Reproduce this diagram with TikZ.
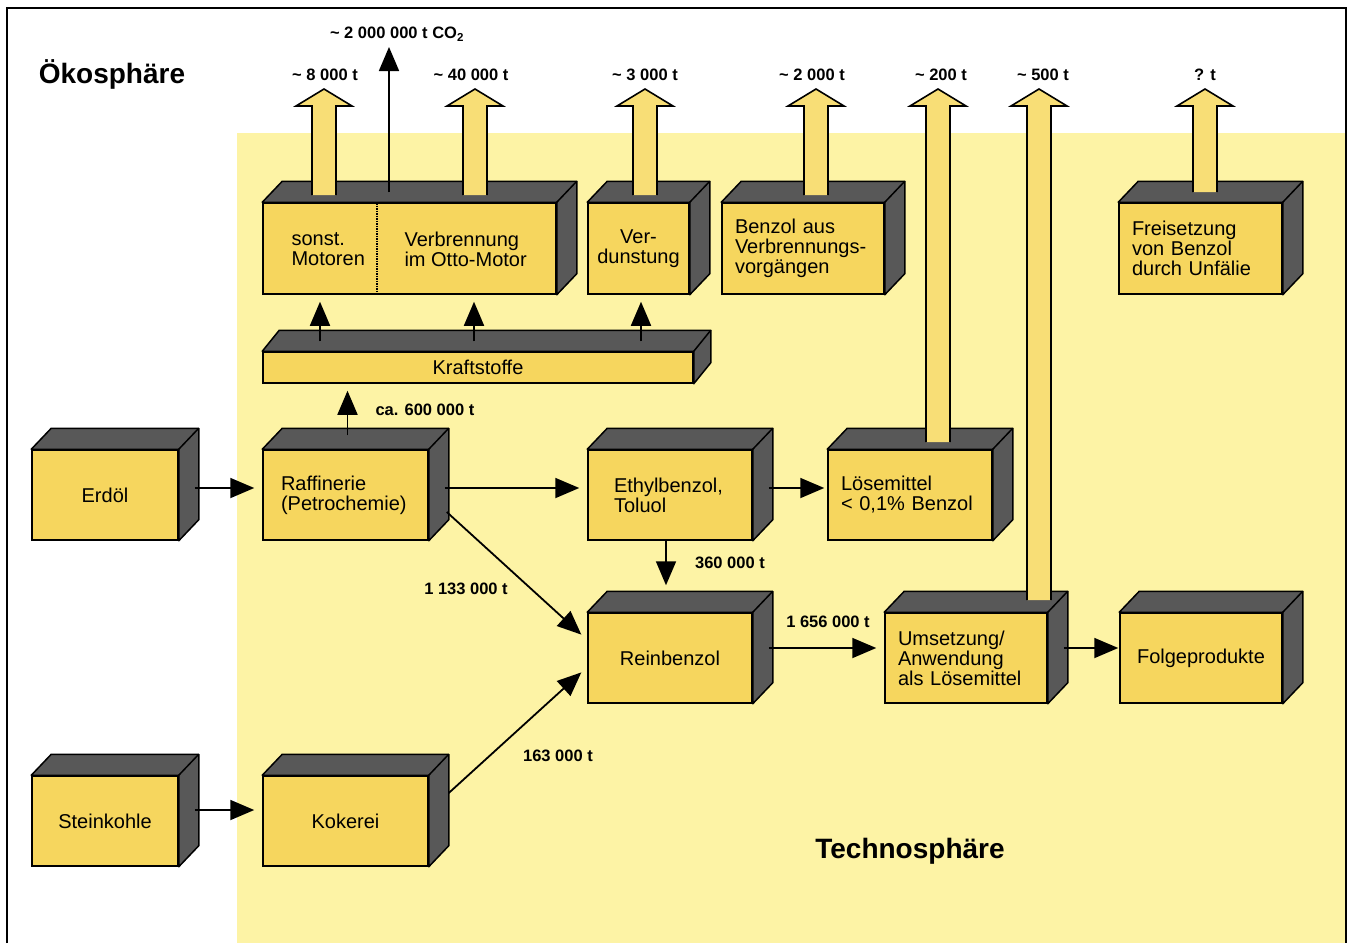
\documentclass[tikz,border=0pt]{standalone}
\usepackage{fontspec}
\setmainfont{Liberation Sans}
\usetikzlibrary{arrows.meta,calc,positioning}
\definecolor{hintergrund}{RGB}{253,243,165}
\definecolor{kastengelb}{RGB}{246,214,94}
\definecolor{kastengrau}{RGB}{88,88,88}
\definecolor{pfeilgelb}{RGB}{248,222,118}
\newcommand{\kastenschrift}{\fontsize{20}{20}\selectfont}
\newcommand{\zahlschrift}{\fontsize{16.5}{18}\selectfont\bfseries}
\newcommand{\titelschrift}{\fontsize{28}{30}\selectfont\bfseries}
\tikzset{
  kasten/.style={draw=black, line width=1.5pt, fill=kastengelb, inner sep=0pt,
    minimum height=90, font=\kastenschrift},
  flanke/.style={draw=black, fill=kastengrau, line width=1.5pt, line join=round},
  pfeil/.style={->, line width=1.8pt, shorten >=8pt},
  zahl/.style={font=\zahlschrift},
  titel/.style={font=\titelschrift},
  teiler/.style={line width=1.5pt, densely dotted},
  rahmen/.style={line width=1.2pt}
}
% Oberseite und Seitenflaeche eines Kastens
\newcommand{\tiefe}[2][20]{%
  \filldraw[flanke] (#2.north west) -- ++(#1pt,21pt) -- ($(#2.north east)+(#1pt,21pt)$)
    -- ($(#2.south east)+(#1pt,21pt)$) -- (#2.south east) -- (#2.north east) -- cycle;
  \draw[flanke] (#2.north east) -- ++(#1pt,21pt);}
% hohler Pfeil nach oben: x, Fuss, Spitze
\newcommand{\hohlpfeil}[3]{%
  \fill[pfeilgelb] (#1-12,#2) -- (#1-12,#3+17) -- (#1-28,#3+17) -- (#1,#3)
    -- (#1+28,#3+17) -- (#1+12,#3+17) -- (#1+12,#2) -- cycle;
  \draw[line width=1.6pt] (#1-12,#2) -- (#1-12,#3+17) -- (#1-28,#3+17) -- (#1,#3)
    -- (#1+28,#3+17) -- (#1+12,#3+17) -- (#1+12,#2);}

\begin{document}
\begin{tikzpicture}[x=1pt,y=-1pt,>={Triangle[length=24pt,width=20pt]}]
\useasboundingbox (0,0) rectangle (1354,943);
\fill[white] (0,0) rectangle (1354,943);
\fill[hintergrund] (237,133) rectangle (1346,943);
\draw[rahmen] (7,943) -- (7,8) -- (1346,8) -- (1346,943);

\node[titel] (oeko) at (112,74) {Ökosphäre};
\node[titel] (techno) at (910,851) {Technosphäre};

% Kaesten
\node[kasten,minimum width=146] (erdoel) at (105,495) {Erdöl};
\node[kasten,minimum width=146] (stein) at (105,821) {Steinkohle};
\node[kasten,minimum width=165,text width=129pt,align=left] (raff) at (345.5,495) {Raffinerie\\(Petrochemie)};
\node[kasten,minimum width=165] (kokerei) at (345.5,821) {Kokerei};
\node[kasten,minimum width=164,text width=112pt,align=left] (ethyl) at (670,495) {Ethylbenzol,\\Toluol};
\node[kasten,minimum width=164,text width=138pt,align=left] (loese) at (910,495) {Lösemittel\\< 0,1\% Benzol};
\node[kasten,minimum width=164] (rein) at (670,658) {Reinbenzol};
\node[kasten,minimum width=162,text width=136pt,align=left] (umsetz) at (966,658) {Umsetzung/\\Anwendung\\als Lösemittel};
\node[kasten,minimum width=162] (folge) at (1201,658) {Folgeprodukte};
\node[kasten,minimum width=293,minimum height=91] (motor) at (409.5,248.5) {};
\node[kasten,minimum width=101,minimum height=91,align=center] (verd) at (638.5,248.5) {Ver-\\dunstung};
\node[kasten,minimum width=162,minimum height=91,text width=136pt,align=left] (benzol) at (803,248.5) {Benzol aus\\Verbrennungs-\\vorgängen};
\node[kasten,minimum width=163,minimum height=91,text width=137pt,align=left] (frei) at (1200.5,248.5) {Freisetzung\\von Benzol\\durch Unfälie};
\node[kasten,minimum width=430,minimum height=31] (kraft) at (478,367.5) {Kraftstoffe};
\foreach \k in {erdoel,stein,raff,kokerei,ethyl,loese,rein,umsetz,folge,motor,verd,benzol,frei}
  {\tiefe{\k}}
\tiefe[17]{kraft}

\node[anchor=west,font=\kastenschrift,align=left] (sonst) at (288,249) {sonst.\\Motoren};
\node[anchor=west,font=\kastenschrift,align=left] (otto) at (401,249) {Verbrennung\\im Otto-Motor};
\coordinate (teil) at (377,203);
\draw[teiler] (teil) -- (teil |- motor.south);

% Stoffstroeme
\draw[pfeil] ([xshift=16pt,yshift=7pt]erdoel.east) -- ([yshift=7pt]raff.west);
\draw[pfeil] ([xshift=16pt,yshift=11pt]stein.east) -- ([yshift=11pt]kokerei.west);
\draw[pfeil] ([xshift=16pt,yshift=7pt]raff.east) -- ([yshift=7pt]ethyl.west);
\draw[pfeil] ([xshift=18pt,yshift=-17pt]raff.east) -- ([yshift=18pt]rein.west);
\draw[pfeil] ([xshift=20pt,yshift=28pt]kokerei.east) -- ([yshift=-9pt]rein.west);
\draw[pfeil,shorten >=3pt] ([xshift=16pt,yshift=7pt]ethyl.east) -- ([yshift=7pt]loese.west);
\draw[pfeil,shorten >=0pt] ([xshift=-4pt]ethyl.south) -- ([xshift=-4pt,yshift=27pt]rein.north);
\draw[pfeil] ([xshift=16pt,yshift=10pt]rein.east) -- ([yshift=10pt]umsetz.west);
\draw[pfeil,shorten >=1pt] ([xshift=16pt,yshift=10pt]umsetz.east) -- ([yshift=10pt]folge.west);
\draw[pfeil,shorten >=7pt] ([xshift=2pt,yshift=14pt]raff.north) -- ([xshift=2pt]raff.north |- kraft.south);
\foreach \z in {320,474,641}
  \draw[pfeil,shorten >=7pt] (\z,0 |- kraft.north) ++(0,-10) -- (\z,0 |- motor.south);
\coordinate (co2spitze) at (389,47);
\draw[->,line width=1.8pt] (co2spitze |- motor.north) ++(0,-10) -- (co2spitze);

% Emissionen
\hohlpfeil{324}{195}{89}
\hohlpfeil{475}{195}{89}
\hohlpfeil{645}{195}{89}
\hohlpfeil{816}{195}{89}
\hohlpfeil{938}{442}{89}
\hohlpfeil{1039}{600}{89}
\hohlpfeil{1205}{192}{89}

\node[zahl] (eco2) at (397,34) {\textasciitilde{} 2 000 000 t CO\textsubscript{2}};
\node[zahl] (e8000) at (325,75) {\textasciitilde{} 8 000 t};
\node[zahl] (e40000) at (471,75) {\textasciitilde{} 40 000 t};
\node[zahl] (e3000) at (645,75) {\textasciitilde{} 3 000 t};
\node[zahl] (e2000) at (812,75) {\textasciitilde{} 2 000 t};
\node[zahl] (e200) at (941,75) {\textasciitilde{} 200 t};
\node[zahl] (e500) at (1043,75) {\textasciitilde{} 500 t};
\node[zahl] (efrage) at (1205,75) {? t};

\node[zahl,anchor=west] (m600) at (372,410) {ca. 600 000 t};
\node[zahl] (m1133) at (466,589) {1 133 000 t};
\node[zahl] (m163) at (558,756) {163 000 t};
\node[zahl] (m360) at (730,563) {360 000 t};
\node[zahl] (m1656) at (828,622) {1 656 000 t};
\end{tikzpicture}
\end{document}
